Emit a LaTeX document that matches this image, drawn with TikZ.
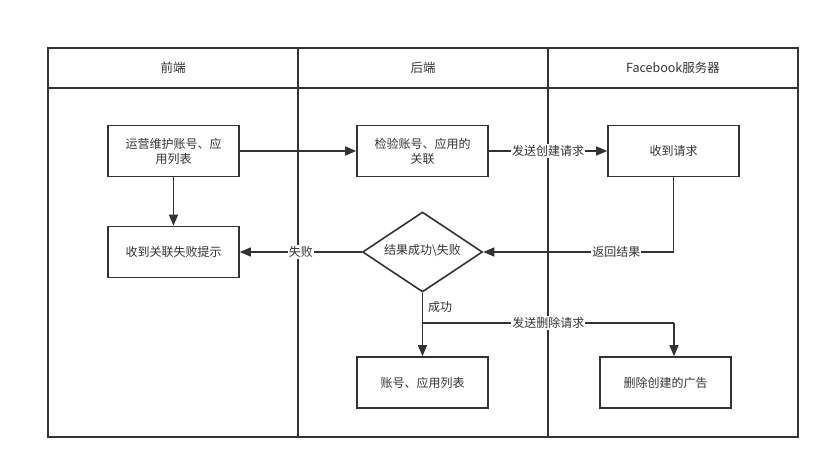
\documentclass[tikz,border=0pt]{standalone}
\usepackage{fontspec}
\setmainfont{Noto Sans CJK SC}
\usetikzlibrary{arrows.meta,shapes.geometric}
\definecolor{linegray}{HTML}{333333}
\tikzset{
  lane/.style={draw=linegray,line width=1.6pt},
  stepbox/.style={draw=linegray,line width=1.6pt,minimum width=131pt,minimum height=51pt,
    align=center,inner sep=2pt,font=\fontsize{12}{15}\selectfont,text=linegray},
  decision/.style={diamond,draw=linegray,line width=1.6pt,minimum width=120pt,minimum height=80pt,
    aspect=1.5,inner sep=0pt,text height=7pt,text depth=1pt,font=\fontsize{12}{15}\selectfont,text=linegray},
  flow/.style={draw=linegray,line width=1.6pt,-{Triangle[length=11pt,width=9pt]}},
  tag/.style={fill=white,inner sep=1pt,font=\fontsize{12}{15}\selectfont,text=linegray},
  head/.style={font=\fontsize{12.5}{15}\selectfont,text=linegray}
}
\begin{document}
\begin{tikzpicture}[x=1pt,y=-1pt]
\useasboundingbox (0,0) rectangle (830,470);
% swimlanes
\draw[lane] (48,48) rectangle (798,437);
\draw[lane] (48,88) -- (798,88);
\draw[lane] (298,48) -- (298,437);
\draw[lane] (548,48) -- (548,437);
\node[head] (h1) at (173,68) {前端};
\node[head] (h2) at (423,68) {后端};
\node[head] (h3) at (673,68) {Facebook服务器};
% steps
\node[stepbox] (maintain) at (173.5,151) {运营维护账号、应\\用列表};
\node[stepbox] (check) at (422.5,151) {检验账号、应用的\\关联};
\node[stepbox] (recv) at (673.5,151) {收到请求};
\node[stepbox] (fail) at (173.5,252) {收到关联失败提示};
\node[decision] (result) at (422.5,252) {结果成功\textbackslash 失败};
\node[stepbox] (list) at (422.5,382.5) {账号、应用列表};
\node[stepbox] (delete) at (665.5,382.5) {删除创建的广告};
\coordinate (split) at (422.5,323);
\coordinate (turn) at (674,323);
% connectors
\draw[flow] (maintain) -- (check);
\draw[flow] (check) -- node[tag] {发送创建请求} (recv);
\draw[flow] (maintain) -- (fail);
\draw[flow] (recv.south) |- node[tag,pos=.65] {返回结果} (result.east);
\draw[flow] (result) -- node[tag,pos=.5] {失败} (fail);
\draw[flow] (result.south) -- (list.north);
\node[tag,fill=none,anchor=west] (ok) at (427,307) {成功};
\draw[draw=linegray,line width=1.6pt] (split) -- node[tag] {发送删除请求} (turn);
\draw[flow] (turn) -- (turn |- delete.north);
\end{tikzpicture}
\end{document}
